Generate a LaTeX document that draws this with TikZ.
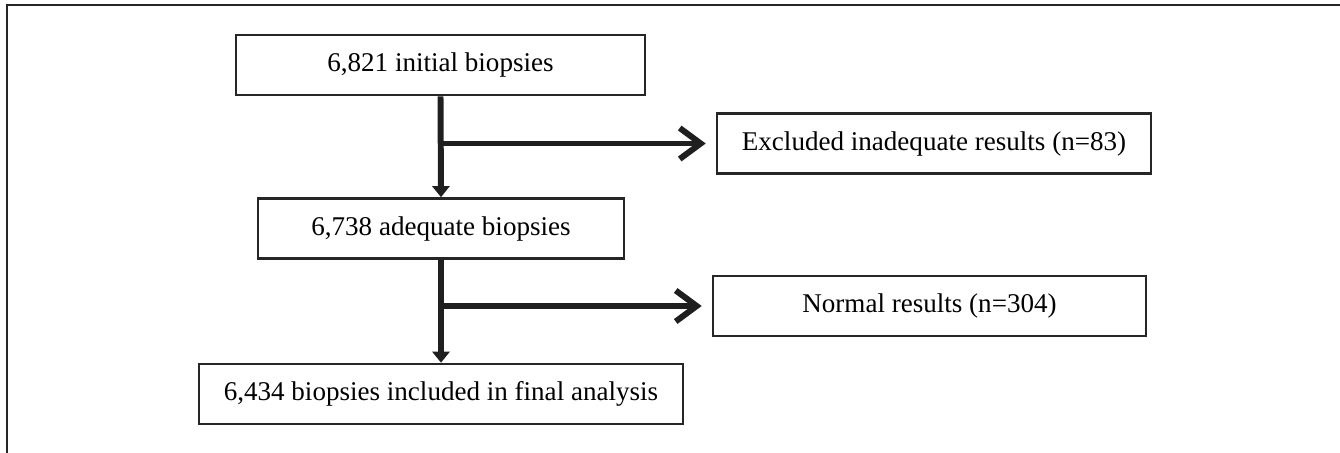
\documentclass[tikz,border=0pt]{standalone}
\usepackage{fontspec}
\setmainfont{Liberation Serif}
\usetikzlibrary{arrows.meta}

\tikzset{%
  stage/.style={
    rectangle,
    draw=black!85,
    line width=1.5pt,
    minimum height=1.2cm,
    inner sep=0pt,
    align=center,
    font=\fontsize{15.4}{18}\selectfont
  },
  flow/.style={
    draw=black!88,
    line width=3.4pt,
    -{Triangle[length=0.22cm,width=0.34cm]}
  },
  exclude/.style={
    draw=black!88,
    line width=3.4pt,
    -{Straight Barb[length=0.42cm,width=0.62cm,line width=3.4pt]},
    shorten >=0.2cm
  },
}

\begin{document}
\begin{tikzpicture}[x=0.02cm,y=-0.02cm]
\useasboundingbox (0,0) rectangle (1340,453);
\draw[line width=1.1pt,black!85] (7,453) -- (7,5) -- (1340,5);
\node[stage,minimum width=8.18cm] (initial) at (440.5,65) {6,821 initial biopsies};
\node[stage,minimum width=8.68cm] (inadequate) at (934,143.5) {Excluded inadequate results (n=83)};
\node[stage,minimum width=7.32cm] (adequate) at (441,228.5) {6,738 adequate biopsies};
\node[stage,minimum width=8.66cm] (normal) at (929.5,306) {Normal results (n=304)};
\node[stage,minimum width=9.68cm] (final) at (441,394) {6,434 biopsies included in final analysis};
\coordinate (split1) at (initial.south |- inadequate.west);
\coordinate (split2) at (adequate.south |- normal.west);
\draw[flow] (initial.south) -- (adequate.north);
\draw[exclude] (split1) -- (inadequate.west);
\draw[flow] (adequate.south) -- (final.north);
\draw[exclude] (split2) -- (normal.west);
\end{tikzpicture}
\end{document}
